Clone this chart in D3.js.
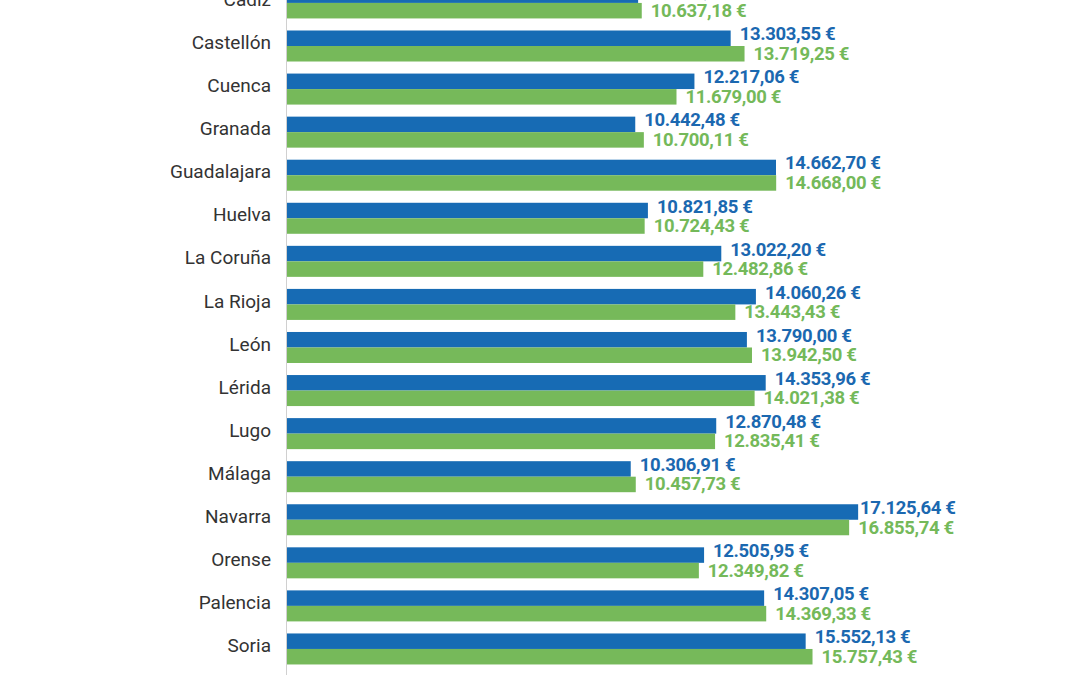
<!DOCTYPE html>
<html>
<head>
<meta charset="utf-8">
<script src="https://cdn.jsdelivr.net/npm/d3@7"></script>
<style>
  html, body { margin: 0; padding: 0; background: #fff; overflow: hidden; }
  #graph { width: 1080px; height: 675px; }
</style>
</head>
<body>
<div id="graph"></div>
<script>
const svgw = 1080
const svgh = 675

// provincias (la primera queda cortada arriba en el original)
const provincias = ['Cádiz', 'Castellón', 'Cuenca', 'Granada', 'Guadalajara', 'Huelva', 'La Coruña',
    'La Rioja', 'León', 'Lérida', 'Lugo', 'Málaga', 'Navarra', 'Orense', 'Palencia', 'Soria']

// serie azul (valor de Cádiz estimado, su etiqueta no se ve)
const serieAzul = [10528.40, 13303.55, 12217.06, 10442.48, 14662.70, 10821.85, 13022.20,
    14060.26, 13790.00, 14353.96, 12870.48, 10306.91, 17125.64, 12505.95, 14307.05, 15552.13]

// serie verde
const serieVerde = [10637.18, 13719.25, 11679.00, 10700.11, 14668.00, 10724.43, 12482.86,
    13443.43, 13942.50, 14021.38, 12835.41, 10457.73, 16855.74, 12349.82, 14369.33, 15757.43]

const series = ['azul', 'verde']
const colores = { azul: '#176bb4', verde: '#76b95a' }
const coloresTexto = { azul: '#1b68b0', verde: '#74b95a' }
const desplTexto = { azul: -4, verde: 0 }

const data = provincias.map((p, i) => ({ provincia: p, azul: serieAzul[i], verde: serieVerde[i] }))

const fmt = v => {
    const [ent, dec] = v.toFixed(2).split('.')
    return ent.replace(/\B(?=(\d{3})+(?!\d))/g, '.') + ',' + dec + ' €'
}

const svg = d3.select('#graph')
    .append('svg')
    .attr('width', svgw)
    .attr('height', svgh)

const xScale = d3.scaleLinear()
    .domain([0, 18000])
    .range([287, 887.3])

const yScale = d3.scaleBand()
    .domain(provincias)
    .range([-18.6, 670.5])
    .paddingInner(0.28)
    .paddingOuter(0.14)

const ySub = d3.scaleBand()
    .domain(series)
    .range([0, yScale.bandwidth()])

const grupos = svg.selectAll('g.grupo')
    .data(data)
    .enter()
    .append('g')
    .attr('class', 'grupo')
    .attr('transform', d => `translate(0,${yScale(d.provincia)})`)

grupos.selectAll('rect')
    .data(d => series.map(s => ({ serie: s, valor: d[s] })))
    .enter()
    .append('rect')
    .attr('x', xScale(0))
    .attr('y', d => ySub(d.serie))
    .attr('width', d => xScale(d.valor) - xScale(0))
    .attr('height', ySub.bandwidth())
    .attr('fill', d => colores[d.serie])

grupos.selectAll('text.valor')
    .data(d => series.map(s => ({ serie: s, valor: d[s] })))
    .enter()
    .append('text')
    .attr('class', 'valor')
    .attr('x', d => Math.min(xScale(d.valor) + 9, 860))
    .attr('y', d => ySub(d.serie) + ySub.bandwidth() / 2 + desplTexto[d.serie])
    .attr('dominant-baseline', 'central')
    .attr('fill', d => coloresTexto[d.serie])
    .style('font-family', 'Roboto, sans-serif')
    .style('font-weight', 700)
    .style('font-size', '18.5px')
    .style('letter-spacing', '-0.35px')
    .text(d => fmt(d.valor))

const yAxis = d3.axisLeft(yScale).tickSize(0).tickPadding(15)

svg.append('g')
    .attr('id', 'y-axis')
    .attr('transform', `translate(${286},${-3})`)
    .call(yAxis)
    .call(g => g.select('.domain').remove())
    .selectAll('text')
    .attr('fill', '#333')
    .style('font-family', 'Roboto, sans-serif')
    .style('font-size', '19px')

svg.append('line')
    .attr('x1', 286.5).attr('x2', 286.5)
    .attr('y1', 0).attr('y2', svgh)
    .attr('stroke', '#d0d0d0')
    .attr('stroke-width', 1)
</script>
</body>
</html>
